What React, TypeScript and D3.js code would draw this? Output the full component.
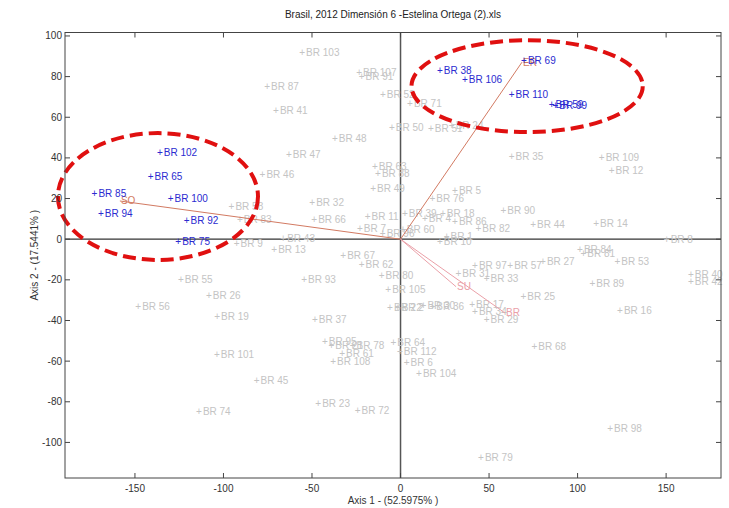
import React from 'react';
import * as d3 from 'd3';

// highlighted group (blue)
const blueNames = ['BR 102', 'BR 65', 'BR 85', 'BR 94', 'BR 100', 'BR 92', 'BR 75', 'BR 38', 'BR 106', 'BR 69', 'BR 110', 'BR 59', 'BR 99'];
const blueX = [-135.9, -141.1, -172.8, -169.2, -129.8, -120.8, -125.5, 22.3, 36.4, 69.8, 62.8, 85.4, 87.5];
const blueY = [42.6, 30.8, 22.3, 12.4, 20.1, 9.1, -1.3, 82.9, 78.6, 88.1, 71.4, 66.3, 65.9];

// remaining points (gray)
const grayNames = [
  'BR 103', 'BR 107', 'BR 91', 'BR 87', 'BR 41', 'BR 48', 'BR 47', 'BR 46', 'BR 52', 'BR 71',
  'BR 50', 'BR 51', 'BR 24', 'BR 63', 'BR 88', 'BR 35', 'BR 109', 'BR 12', 'BR 49', 'BR 58',
  'BR 83', 'BR 32', 'BR 66', 'BR 11', 'BR 7', 'BR 96', 'BR 43', 'BR 9', 'BR 13', 'BR 67',
  'BR 62', 'BR 93', 'BR 80', 'BR 105', 'BR 22', 'BR 2', 'BR 37', 'BR 95', 'BR 21', 'BR 78',
  'BR 61', 'BR 108', 'BR 45', 'BR 23', 'BR 72', 'BR 101', 'BR 74', 'BR 55', 'BR 26', 'BR 19',
  'BR 56', 'BR 5', 'BR 76', 'BR 39', 'BR 18', 'BR 4', 'BR 86', 'BR 82', 'BR 60', 'BR 1',
  'BR 10', 'BR 90', 'BR 44', 'BR 14', 'BR 8', 'BR 84', 'BR 81', 'BR 27', 'BR 53', 'BR 89',
  'BR 16', 'BR 40', 'BR 42', 'BR 68', 'BR 98', 'BR 97', 'BR 31', 'BR 33', 'BR 57', 'BR 25',
  'BR 17', 'BR 34', 'BR 29', 'BR 64', 'BR 112', 'BR 6', 'BR 104', 'BR 79', 'BR 30', 'BR 36',
];
const grayX = [
  -55.5, -23.3, -21.9, -75.3, -70.3, -37, -63, -77.9, -9.9, 5.4,
  -4.8, 17.2, 29, -14.4, -12.7, 62.8, 113.7, 119.3, -15.4, -95.4,
  -90.7, -49.8, -48.7, -18.5, -22.9, -10, -66.2, -92.5, -71.3, -32.3,
  -21.9, -54.4, -10.6, -6.9, -5.9, -1.5, -48.3, -42.7, -39, -27,
  -32.9, -38, -81.2, -46.4, -24.2, -103.7, -113.8, -124, -108.2, -103.5,
  -148.1, 30.8, 18, 2.5, 24, 13.8, 30.8, 44, 1.4, 26.1,
  22.3, 58.1, 74.9, 110.5, 150.4, 101.4, 103.3, 80.5, 122.5, 108.4,
  124, 164, 164, 75.6, 118.4, 42.1, 32.7, 48.7, 62, 69.4,
  40.5, 42.1, 48.7, -4, -0.3, 3.5, 10.5, 45.5, 13, 18,
];
const grayY = [
  91.9, 81.9, 80.2, 75.3, 63.2, 49.6, 41.9, 31.9, 71.4, 66.9,
  54.8, 54.7, 56, 35.9, 32.4, 40.6, 40.1, 33.6, 25.1, 16,
  9.5, 18, 9.8, 11.4, 5.4, 2.8, 0.5, -2, -5.3, -8.2,
  -12.6, -19.7, -17.9, -24.9, -33.6, -33.6, -39.7, -50.3, -52.3, -52.3,
  -56, -60.4, -69.6, -80.6, -84.4, -56.8, -85, -20, -27.9, -38,
  -33.1, 24.2, 20.1, 12.7, 12.7, 10.2, 8.9, 5.4, 4.8, 1.3,
  -1.2, 14.1, 7.4, 7.8, -0.3, -4.9, -7.2, -11, -11, -21.6,
  -35.1, -17.5, -20.9, -53, -92.9, -13.1, -17, -19.2, -13.1, -28.2,
  -32.3, -35.7, -39.7, -51, -55.5, -60.9, -66.3, -107.6, -32.8, -33.3,
];

// variable vectors
const vecNames = ['SO', 'ER', 'BR', 'SU'];
const vecX = [-158.5, 68.6, 59, 31.4];
const vecY = [18.8, 87.1, -36.3, -23.4];
const vecColors = ['#d27a62', '#d27a62', '#eaa0a8', '#eaa0a8'];

// annotation ellipses (data units)
const ellCx = [-137, 71.5];
const ellCy = [21, 75.3];
const ellRx = [56.5, 65.3];
const ellRy = [31.2, 22.6];

const xTicks = [-150, -100, -50, 0, 50, 100, 150];
const yTicks = [-100, -80, -60, -40, -20, 0, 20, 40, 60, 80, 100];

const W = 729;
const H = 508;
const margin = { top: 32.5, right: 8, bottom: 30, left: 65 };

export default function App() {
  const x = d3.scaleLinear().domain([-189.5, 181]).range([margin.left, W - margin.right]);
  const y = d3.scaleLinear().domain([-117.5, 101.7]).range([H - margin.bottom, margin.top]);
  const [x0, x1] = x.range();
  const [y0, y1] = [y.range()[1], y.range()[0]];
  const font = 'Liberation Sans, Arial, sans-serif';

  const label = (name: string, px: number, py: number, color: string, key: string) => (
    <text key={key} x={x(px) - 3} y={y(py)} dy="0.35em" fontSize={10} fill={color} fontFamily={font}>
      +<tspan dx={1}>{name}</tspan>
    </text>
  );

  return (
    <svg width={W} height={H} style={{ position: 'absolute', left: 0, top: 0, background: '#fff' }}>
      <text x={(x0 + x1) / 2} y={18} textAnchor="middle" fontSize={10} fontFamily={font} fill="#222">
        Brasil, 2012 Dimensión 6 -Estelina Ortega (2).xls
      </text>

      {/* zero lines */}
      <line x1={x0} x2={x1} y1={y(0)} y2={y(0)} stroke="#333" strokeWidth={1.2} />
      <line x1={x(0)} x2={x(0)} y1={y0} y2={y1} stroke="#555" strokeWidth={1.5} />

      {/* gray points */}
      {grayNames.map((n, i) => label(n, grayX[i], grayY[i], '#c4c4c4', 'g' + i))}

      {/* vectors */}
      {vecNames.map((n, i) => (
        <g key={'v' + i}>
          <line x1={x(0)} y1={y(0)} x2={x(vecX[i])} y2={y(vecY[i])} stroke={vecColors[i]} strokeWidth={1} />
          <text x={x(vecX[i]) + 1} y={y(vecY[i])} dy="0.35em" fontSize={10} fill={vecColors[i]} fontFamily={font}>
            {n}
          </text>
        </g>
      ))}

      {/* blue points */}
      {blueNames.map((n, i) => label(n, blueX[i], blueY[i], '#2b2bd0', 'b' + i))}

      {/* ellipses */}
      {ellCx.map((cx, i) => (
        <ellipse
          key={'e' + i}
          cx={x(cx)}
          cy={y(ellCy[i])}
          rx={x(ellRx[i]) - x(0)}
          ry={y(0) - y(ellRy[i])}
          fill="none"
          stroke="#e01010"
          strokeWidth={4}
          strokeDasharray="13,6"
        />
      ))}

      {/* frame */}
      <rect x={x0} y={y0} width={x1 - x0} height={y1 - y0} fill="none" stroke="#444" strokeWidth={1} />
      {xTicks.map((t) => (
        <g key={'xt' + t}>
          <line x1={x(t)} x2={x(t)} y1={y1} y2={y1 - 5} stroke="#444" />
          <line x1={x(t)} x2={x(t)} y1={y0} y2={y0 + 5} stroke="#444" />
          <text x={x(t)} y={y1 + 14} textAnchor="middle" fontSize={10} fontFamily={font} fill="#333">
            {t}
          </text>
        </g>
      ))}
      {yTicks.map((t) => (
        <g key={'yt' + t}>
          <line x1={x0} x2={x0 + 5} y1={y(t)} y2={y(t)} stroke="#444" />
          <line x1={x1} x2={x1 - 5} y1={y(t)} y2={y(t)} stroke="#444" />
          <text x={x0 - 3} y={y(t)} dy="0.35em" textAnchor="end" fontSize={10} fontFamily={font} fill="#333">
            {t}
          </text>
        </g>
      ))}
      <text x={(x0 + x1) / 2} y={H - 4} textAnchor="middle" fontSize={10} fontFamily={font} fill="#333">
        Axis 1 - (52.5975% )
      </text>
      <text
        transform={`translate(38,${(y0 + y1) / 2}) rotate(-90)`}
        textAnchor="middle"
        fontSize={10}
        fontFamily={font}
        fill="#333"
      >
        Axis 2 - (17.5441% )
      </text>
    </svg>
  );
}
